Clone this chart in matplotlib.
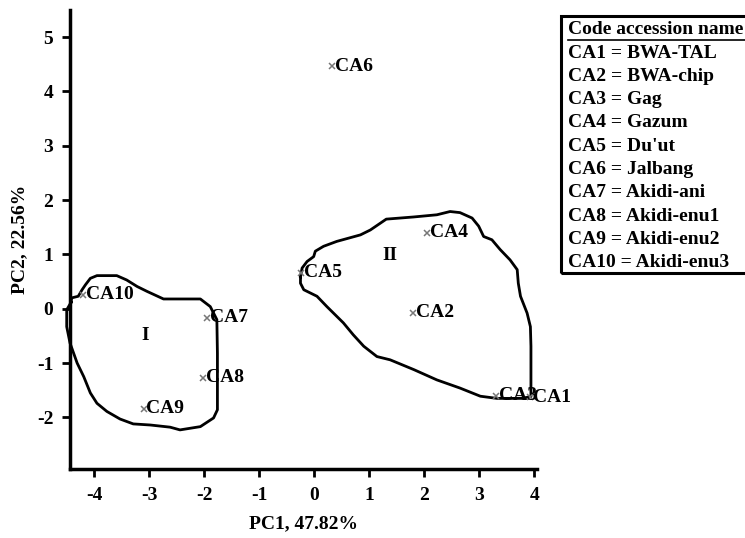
import matplotlib
matplotlib.use("Agg")
import matplotlib.pyplot as plt
from matplotlib.patches import Rectangle
from matplotlib.lines import Line2D

plt.rcParams['font.family'] = ['Liberation Serif', 'DejaVu Serif']
plt.rcParams['font.weight'] = 'bold'

# Accession scores
codes = ["CA1", "CA2", "CA3", "CA4", "CA5", "CA6", "CA7", "CA8", "CA9", "CA10"]
pc1 = [3.93, 1.80, 3.31, 2.05, -0.24, 0.33, -1.95, -2.02, -3.10, -4.20]
pc2 = [-1.63, -0.07, -1.60, 1.40, 0.66, 4.46, -0.17, -1.27, -1.84, 0.26]

names = ["BWA-TAL", "BWA-chip", "Gag", "Gazum", "Du'ut", "Jalbang",
         "Akidi-ani", "Akidi-enu1", "Akidi-enu2", "Akidi-enu3"]

# Cluster outlines (hand-drawn boundaries)
cluster1_x = [-4.42, -4.41, -4.29, -4.22, -4.16, -4.07, -3.95, -3.59, -3.41, -3.22,
              -3.04, -2.74, -2.07, -1.89, -1.77, -1.76, -1.76, -1.83, -2.07, -2.44,
              -2.62, -2.98, -3.29, -3.53, -3.77, -3.95, -4.07, -4.19, -4.31, -4.44,
              -4.50, -4.50, -4.42]
cluster1_y = [0.12, 0.20, 0.23, 0.35, 0.44, 0.56, 0.61, 0.61, 0.53, 0.41,
              0.32, 0.18, 0.18, 0.04, -0.20, -0.82, -1.86, -2.01, -2.17, -2.23,
              -2.18, -2.14, -2.12, -2.03, -1.89, -1.74, -1.55, -1.25, -1.00, -0.63,
              -0.33, -0.02, 0.12]

cluster2_x = [-0.25, -0.22, -0.13, -0.01, 0.02, 0.17, 0.41, 0.84, 1.02, 1.31,
              1.81, 2.23, 2.35, 2.47, 2.65, 2.87, 2.99, 3.08, 3.23, 3.38,
              3.56, 3.69, 3.71, 3.75, 3.87, 3.93, 3.94, 3.94, 3.75, 3.32,
              3.02, 2.65, 2.23, 1.81, 1.38, 1.14, 0.90, 0.71, 0.53, 0.35,
              0.23, 0.05, -0.19, -0.25, -0.25]
cluster2_y = [0.59, 0.75, 0.87, 0.96, 1.06, 1.15, 1.24, 1.36, 1.45, 1.65,
              1.69, 1.73, 1.76, 1.79, 1.77, 1.67, 1.52, 1.33, 1.27, 1.09,
              0.90, 0.72, 0.47, 0.23, -0.08, -0.33, -0.69, -1.62, -1.65, -1.65,
              -1.61, -1.46, -1.31, -1.12, -0.94, -0.88, -0.69, -0.48, -0.26, -0.08,
              0.04, 0.23, 0.35, 0.47, 0.59]

cluster_labels = ["I", "II"]
cluster_label_x = [-3.07, 1.38]
cluster_label_y = [-0.50, 0.98]

xticks = [-4, -3, -2, -1, 0, 1, 2, 3, 4]
yticks = [-2, -1, 0, 1, 2, 3, 4, 5]

FS = 14

fig = plt.figure(figsize=(7.45, 5.38), dpi=100)
ax = fig.add_axes([70/745, 1 - 469/538, (537-70)/745, (469-10)/538])

ax.plot(cluster1_x, cluster1_y, color='black', lw=2, clip_on=False, zorder=2)
ax.plot(cluster2_x, cluster2_y, color='black', lw=2, clip_on=False, zorder=2)

ax.plot(pc1, pc2, linestyle='none', marker='x', ms=4, mew=1.1, color='#777777', zorder=3)
for c, x, y in zip(codes, pc1, pc2):
    ax.annotate(c, (x, y), xytext=(2, 0), textcoords='offset points',
                ha='left', va='center', fontsize=FS, fontweight='bold', zorder=4)

for t, x, y in zip(cluster_labels, cluster_label_x, cluster_label_y):
    ax.text(x, y, t, ha='center', va='center', fontsize=FS, fontweight='bold')

ax.set_xlim(-4.44, 4.05)
ax.set_ylim(-2.95, 5.5)
ax.set_xticks(xticks)
ax.set_yticks(yticks)
ax.set_xticklabels([str(v) for v in xticks])
ax.set_yticklabels([str(v) for v in yticks])
for s in ['top', 'right']:
    ax.spines[s].set_visible(False)
for s in ['left', 'bottom']:
    ax.spines[s].set_linewidth(2.5)
ax.tick_params(direction='out', length=6, width=2, labelsize=FS)
ax.tick_params(axis='x', pad=7)
ax.tick_params(axis='y', pad=6)
for lab in ax.get_xticklabels() + ax.get_yticklabels():
    lab.set_fontweight('bold')
ax.set_xlabel("PC1, 47.82%", fontsize=FS, fontweight='bold', labelpad=8)
ax.set_ylabel("PC2, 22.56%", fontsize=FS, fontweight='bold', labelpad=6)

# Legend box
W, H = 745, 538
fig.patches.append(Rectangle((561/W, 1 - 273/H), 200/W, (273-16)/H,
                             transform=fig.transFigure, fill=False,
                             edgecolor='black', lw=2.2))
tx = 568/W
fig.text(tx, 1 - 30/H, "Code accession name", ha='left', va='center',
         fontsize=FS, fontweight='bold')
fig.lines.append(Line2D([568/W, 745/W], [1 - 40/H, 1 - 40/H],
                        transform=fig.transFigure, color='black', lw=1.2))
for i, (c, n) in enumerate(zip(codes, names)):
    fig.text(tx, 1 - (53 + i*23.3)/H, f"{c} = {n}", ha='left', va='center',
             fontsize=FS, fontweight='bold')

fig.savefig("out.png", dpi=100)
